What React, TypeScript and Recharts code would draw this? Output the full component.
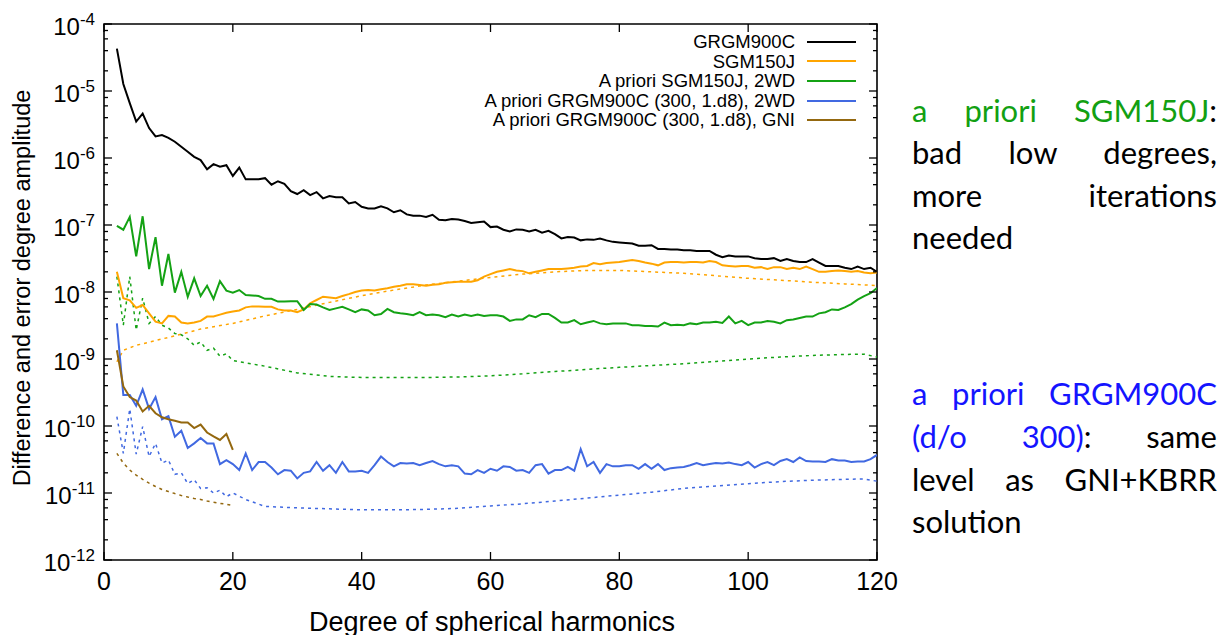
import React from 'react';
import { LineChart, Line, XAxis, YAxis, ReferenceArea, Legend } from 'recharts';

// degrees of the full-length series start at 2
const firstDegree = 2;

const grgm900c = [
  4.3e-5, 1.27e-5, 6.6e-6, 3.5e-6, 4.6e-6, 2.8e-6, 2.1e-6, 2.2e-6, 2.0e-6, 1.75e-6,
  1.47e-6, 1.24e-6, 1.04e-6, 9.3e-7, 6.8e-7, 8.1e-7, 7.4e-7, 7.8e-7, 5.4e-7, 7.2e-7,
  4.8e-7, 4.8e-7, 4.8e-7, 5.0e-7, 4.0e-7, 4.5e-7, 4.1e-7, 3.2e-7, 2.9e-7, 3.3e-7,
  2.8e-7, 3.1e-7, 2.5e-7, 2.7e-7, 2.6e-7, 2.6e-7, 2.1e-7, 2.2e-7, 1.87e-7, 1.77e-7,
  1.77e-7, 1.9e-7, 1.77e-7, 1.55e-7, 1.66e-7, 1.44e-7, 1.38e-7, 1.38e-7, 1.32e-7, 1.42e-7,
  1.2e-7, 1.18e-7, 1.23e-7, 1.21e-7, 1.15e-7, 1.07e-7, 1.1e-7, 1.13e-7, 9.3e-8, 9.5e-8,
  8.5e-8, 8.0e-8, 8.6e-8, 8.5e-8, 8.0e-8, 8.5e-8, 7.7e-8, 8.2e-8, 7.3e-8, 6.3e-8,
  6.6e-8, 6.5e-8, 5.9e-8, 6.1e-8, 6.0e-8, 6.3e-8, 5.9e-8, 5.6e-8, 5.5e-8, 5.4e-8,
  5.3e-8, 4.9e-8, 4.9e-8, 5.0e-8, 4.4e-8, 4.4e-8, 4.3e-8, 4.3e-8, 4.2e-8, 4.2e-8,
  4.1e-8, 4.1e-8, 4.1e-8, 3.6e-8, 3.3e-8, 3.5e-8, 3.4e-8, 3.4e-8, 3.4e-8, 3.2e-8,
  3.1e-8, 3.1e-8, 3.2e-8, 2.9e-8, 3.1e-8, 2.9e-8, 2.8e-8, 2.8e-8, 3.1e-8, 2.75e-8,
  2.45e-8, 2.45e-8, 2.45e-8, 2.3e-8, 2.2e-8, 2.4e-8, 2.2e-8, 2.3e-8, 2.0e-8,
];

const sgm150j = [
  2.0e-8, 8.1e-9, 7.5e-9, 5.8e-9, 6.4e-9, 4.8e-9, 3.6e-9, 3.4e-9, 4.4e-9, 4.3e-9,
  3.5e-9, 3.4e-9, 3.5e-9, 3.7e-9, 4.3e-9, 4.3e-9, 4.6e-9, 4.9e-9, 5.1e-9, 5.3e-9,
  5.9e-9, 6.1e-9, 6.1e-9, 6.0e-9, 6.0e-9, 5.5e-9, 5.3e-9, 5.3e-9, 5.0e-9, 5.5e-9,
  6.8e-9, 7.6e-9, 8.5e-9, 8.3e-9, 8.1e-9, 8.7e-9, 9.3e-9, 1.0e-8, 1.05e-8, 1.07e-8,
  1.05e-8, 1.1e-8, 1.14e-8, 1.2e-8, 1.24e-8, 1.3e-8, 1.3e-8, 1.27e-8, 1.24e-8, 1.28e-8,
  1.3e-8, 1.37e-8, 1.4e-8, 1.42e-8, 1.42e-8, 1.42e-8, 1.5e-8, 1.7e-8, 1.85e-8, 2.0e-8,
  2.1e-8, 2.2e-8, 2.1e-8, 2.05e-8, 1.9e-8, 2.0e-8, 2.1e-8, 2.2e-8, 2.2e-8, 2.2e-8,
  2.25e-8, 2.3e-8, 2.4e-8, 2.45e-8, 2.7e-8, 2.6e-8, 2.7e-8, 2.75e-8, 2.8e-8, 2.9e-8,
  3.0e-8, 2.9e-8, 2.75e-8, 2.65e-8, 2.5e-8, 2.75e-8, 2.8e-8, 2.8e-8, 2.75e-8, 2.8e-8,
  2.8e-8, 2.75e-8, 2.9e-8, 2.8e-8, 2.5e-8, 2.45e-8, 2.4e-8, 2.45e-8, 2.45e-8, 2.3e-8,
  2.35e-8, 2.2e-8, 2.35e-8, 2.35e-8, 2.2e-8, 2.3e-8, 2.2e-8, 2.4e-8, 2.2e-8, 2.0e-8,
  2.0e-8, 2.05e-8, 2.1e-8, 2.05e-8, 2.0e-8, 2.05e-8, 1.95e-8, 1.9e-8, 1.95e-8,
];

const aprioriSgm2wd = [
  9.7e-8, 8.5e-8, 1.32e-7, 3.4e-8, 1.35e-7, 2.2e-8, 6.6e-8, 1.24e-8, 3.7e-8, 9.8e-9,
  2.0e-8, 8.5e-9, 1.6e-8, 8.7e-9, 1.24e-8, 7.9e-9, 1.45e-8, 1.05e-8, 9.8e-9, 1.07e-8,
  9.0e-9, 8.9e-9, 8.7e-9, 7.9e-9, 7.9e-9, 7.2e-9, 7.2e-9, 7.3e-9, 7.3e-9, 5.4e-9,
  6.6e-9, 6.5e-9, 5.9e-9, 5.4e-9, 5.7e-9, 6.0e-9, 5.5e-9, 5.0e-9, 5.5e-9, 5.3e-9,
  4.5e-9, 4.7e-9, 5.6e-9, 5.0e-9, 4.8e-9, 4.7e-9, 4.5e-9, 5.0e-9, 4.5e-9, 4.6e-9,
  4.5e-9, 4.2e-9, 4.6e-9, 4.3e-9, 4.6e-9, 4.4e-9, 4.6e-9, 4.4e-9, 4.5e-9, 4.5e-9,
  4.3e-9, 3.7e-9, 3.9e-9, 3.9e-9, 4.5e-9, 4.2e-9, 4.7e-9, 4.7e-9, 4.1e-9, 3.5e-9,
  3.5e-9, 3.8e-9, 3.3e-9, 3.5e-9, 3.7e-9, 3.4e-9, 3.3e-9, 3.4e-9, 3.4e-9, 3.4e-9,
  3.2e-9, 3.2e-9, 3.1e-9, 3.1e-9, 3.05e-9, 3.5e-9, 3.2e-9, 3.25e-9, 3.2e-9, 3.4e-9,
  3.3e-9, 3.5e-9, 3.5e-9, 3.6e-9, 3.45e-9, 4.3e-9, 3.4e-9, 3.7e-9, 3.2e-9, 3.5e-9,
  3.5e-9, 3.7e-9, 3.6e-9, 3.4e-9, 3.8e-9, 3.9e-9, 4.1e-9, 4.3e-9, 4.3e-9, 4.8e-9,
  5.0e-9, 5.5e-9, 5.4e-9, 5.9e-9, 6.6e-9, 7.7e-9, 8.7e-9, 9.6e-9, 1.15e-8,
];

const aprioriGrgm2wd = [
  3.4e-9, 2.9e-10, 2.9e-10, 2.0e-10, 3.5e-10, 1.8e-10, 2.7e-10, 1.26e-10, 1.4e-10, 6.9e-11,
  8.5e-11, 4.7e-11, 5.5e-11, 6.6e-11, 5.5e-11, 5.5e-11, 2.7e-11, 3.1e-11, 2.7e-11, 2.2e-11,
  3.9e-11, 2.2e-11, 2.9e-11, 2.9e-11, 2.4e-11, 1.9e-11, 2.2e-11, 2.15e-11, 1.65e-11, 2.0e-11,
  2.1e-11, 2.9e-11, 2.15e-11, 2.6e-11, 2.0e-11, 2.9e-11, 2.1e-11, 2.1e-11, 2.15e-11, 2.0e-11,
  2.6e-11, 3.5e-11, 2.9e-11, 2.5e-11, 2.8e-11, 2.75e-11, 2.8e-11, 2.6e-11, 2.8e-11, 3.0e-11,
  2.7e-11, 2.5e-11, 2.6e-11, 2.5e-11, 1.95e-11, 1.9e-11, 2.2e-11, 2.0e-11, 2.3e-11, 2.15e-11,
  2.5e-11, 2.45e-11, 2.15e-11, 2.2e-11, 2.0e-11, 2.6e-11, 2.7e-11, 1.95e-11, 2.2e-11, 2.2e-11,
  2.45e-11, 2.15e-11, 4.5e-11, 2.5e-11, 2.9e-11, 2.0e-11, 2.7e-11, 2.5e-11, 2.5e-11, 2.6e-11,
  2.6e-11, 2.3e-11, 2.7e-11, 2.3e-11, 2.7e-11, 2.2e-11, 2.35e-11, 2.4e-11, 2.45e-11, 2.6e-11,
  2.8e-11, 2.6e-11, 2.7e-11, 2.8e-11, 2.75e-11, 2.85e-11, 2.7e-11, 2.6e-11, 2.9e-11, 2.4e-11,
  2.7e-11, 2.9e-11, 2.6e-11, 3.0e-11, 3.2e-11, 2.9e-11, 3.4e-11, 3.0e-11, 2.95e-11, 2.95e-11,
  2.9e-11, 3.2e-11, 3.05e-11, 3.05e-11, 2.9e-11, 2.95e-11, 2.95e-11, 3.2e-11, 3.7e-11,
];

// degrees 2..20 only
const aprioriGrgmGni = [
  1.35e-9, 3.9e-10, 2.7e-10, 2.4e-10, 1.65e-10, 2.0e-10, 1.55e-10, 1.35e-10, 1.26e-10, 1.2e-10,
  1.13e-10, 1.13e-10, 9.3e-11, 1.05e-10, 8.0e-11, 7.0e-11, 6.2e-11, 7.6e-11, 4.4e-11,
];

// error degree amplitudes (dotted)
const sgm150jErrDegrees = [2, 3, 5, 10, 15, 20, 25, 30, 35, 40, 45, 50, 55, 60, 65, 70, 75, 80, 85, 90, 95, 100, 105, 110, 115, 120];
const sgm150jErr = [
  9.1e-10, 1.35e-9, 1.6e-9, 2.1e-9, 2.8e-9, 3.4e-9, 4.4e-9, 5.5e-9, 7.0e-9, 8.8e-9,
  1.07e-8, 1.27e-8, 1.45e-8, 1.65e-8, 1.85e-8, 2.0e-8, 2.1e-8, 2.1e-8, 2.0e-8, 1.9e-8,
  1.75e-8, 1.6e-8, 1.5e-8, 1.4e-8, 1.32e-8, 1.25e-8,
];

const aprioriSgmErrDegrees = [
  2, 3, 4, 5, 6, 7, 8, 9, 10, 11, 12, 13, 14, 15, 16, 17, 18, 19, 20,
  25, 30, 35, 40, 45, 50, 55, 60, 65, 70, 75, 80, 85, 90, 95, 100, 105, 110, 115, 118, 120,
];
const aprioriSgmErr = [
  1.7e-8, 3.2e-9, 1.7e-8, 2.7e-9, 8.1e-9, 3.4e-9, 4.3e-9, 3.2e-9, 2.9e-9, 2.4e-9,
  2.3e-9, 2.0e-9, 1.6e-9, 1.8e-9, 1.35e-9, 1.45e-9, 1.1e-9, 1.2e-9, 9.5e-10,
  7.8e-10, 6.2e-10, 5.5e-10, 5.3e-10, 5.3e-10, 5.3e-10, 5.4e-10, 5.6e-10, 6.0e-10, 6.5e-10,
  7.0e-10, 7.5e-10, 8.0e-10, 8.5e-10, 9.2e-10, 1.0e-9, 1.07e-9, 1.13e-9, 1.17e-9, 1.18e-9, 1.07e-9,
];

const aprioriGrgmErrDegrees = [
  2, 3, 4, 5, 6, 7, 8, 9, 10, 11, 12, 13, 14, 15, 16, 17, 18, 19, 20,
  22, 25, 30, 35, 40, 45, 50, 55, 60, 65, 70, 75, 80, 85, 90, 95, 100, 105, 110, 115, 118, 120,
];
const aprioriGrgmErr = [
  1.38e-10, 3.9e-11, 1.8e-10, 3.8e-11, 9.8e-11, 3.5e-11, 5.5e-11, 2.8e-11, 3.1e-11, 1.9e-11,
  2.0e-11, 1.38e-11, 1.58e-11, 1.17e-11, 1.2e-11, 1.0e-11, 1.1e-11, 8.8e-12, 1.0e-11,
  8.0e-12, 6.3e-12, 6.0e-12, 5.8e-12, 5.6e-12, 5.6e-12, 5.7e-12, 5.9e-12, 6.4e-12, 6.9e-12,
  7.6e-12, 8.4e-12, 9.3e-12, 1.03e-11, 1.17e-11, 1.27e-11, 1.38e-11, 1.48e-11, 1.55e-11, 1.6e-11,
  1.62e-11, 1.5e-11,
];

// degrees 2..20
const gniErr = [
  3.9e-11, 2.8e-11, 2.2e-11, 1.85e-11, 1.6e-11, 1.4e-11, 1.25e-11, 1.13e-11, 1.05e-11, 9.8e-12,
  9.2e-12, 8.7e-12, 8.3e-12, 8.0e-12, 7.6e-12, 7.3e-12, 7.0e-12, 6.8e-12, 6.5e-12,
];

const xTicks = [0, 20, 40, 60, 80, 100, 120];
const yExponents = [-12, -11, -10, -9, -8, -7, -6, -5, -4];
const yMinorMantissas = [2, 4, 6, 8];

const BLACK = '#000000';
const ORANGE = '#ffa500';
const GREEN = '#14a214';
const BLUE = '#4169e1';
const BROWN = '#94680f';

const fromStart = (vals: number[]) => vals.map((v, i) => ({ d: firstDegree + i, v }));
const fromPairs = (degs: number[], vals: number[]) => degs.map((d, i) => ({ d, v: vals[i] }));

const solidSeries = [
  { name: 'GRGM900C', color: BLACK, data: fromStart(grgm900c) },
  { name: 'SGM150J', color: ORANGE, data: fromStart(sgm150j) },
  { name: 'A priori SGM150J, 2WD', color: GREEN, data: fromStart(aprioriSgm2wd) },
  { name: 'A priori GRGM900C (300, 1.d8), 2WD', color: BLUE, data: fromStart(aprioriGrgm2wd) },
  { name: 'A priori GRGM900C (300, 1.d8), GNI', color: BROWN, data: fromStart(aprioriGrgmGni) },
];

const dottedSeries = [
  { key: 'sgmErr', color: ORANGE, data: fromPairs(sgm150jErrDegrees, sgm150jErr) },
  { key: 'apSgmErr', color: GREEN, data: fromPairs(aprioriSgmErrDegrees, aprioriSgmErr) },
  { key: 'apGrgmErr', color: BLUE, data: fromPairs(aprioriGrgmErrDegrees, aprioriGrgmErr) },
  { key: 'gniErr', color: BROWN, data: fromStart(gniErr) },
];

const yTicks = [
  ...yExponents.map((e) => 10 ** e),
  ...yExponents.slice(0, -1).flatMap((e) => yMinorMantissas.map((m) => m * 10 ** e)),
].sort((a, b) => a - b);

// plot frame
const PL = 104;
const PR = 877;
const PT = 24;
const PB = 560;
const W = 1232;
const H = 635;
const FONT = '"Liberation Sans", Arial, Helvetica, sans-serif';

const YTick = (props: any) => {
  const { y, payload } = props;
  const v = payload.value as number;
  const exp = Math.round(Math.log10(v));
  const major = Math.abs(v / 10 ** exp - 1) < 1e-6;
  const len = major ? 8 : 4;
  return (
    <g>
      <line x1={PL} x2={PL + len} y1={y} y2={y} stroke="#000" strokeWidth={1.3} />
      <line x1={PR - len} x2={PR} y1={y} y2={y} stroke="#000" strokeWidth={1.3} />
      {major && (
        <text x={95} y={y + 11} textAnchor="end" fontSize={24} fontFamily={FONT} fill="#000">
          10
          <tspan dy={-10} fontSize={17}>{exp}</tspan>
        </text>
      )}
    </g>
  );
};

const XTick = (props: any) => {
  const { x, payload } = props;
  return (
    <g>
      <line x1={x} x2={x} y1={PB} y2={PB - 8} stroke="#000" strokeWidth={1.3} />
      <line x1={x} x2={x} y1={PT} y2={PT + 8} stroke="#000" strokeWidth={1.3} />
      <text x={x} y={PB + 30} textAnchor="middle" fontSize={25} fontFamily={FONT} fill="#000">
        {payload.value}
      </text>
    </g>
  );
};

const renderLegend = () => (
  <div style={{ fontFamily: FONT, fontSize: 18.5, color: '#000' }}>
    {solidSeries.map((s) => (
      <div
        key={s.name}
        style={{ display: 'flex', justifyContent: 'flex-end', alignItems: 'center', height: 19.6 }}
      >
        <span style={{ whiteSpace: 'nowrap', lineHeight: '19.6px' }}>{s.name}</span>
        <svg width={49} height={4} style={{ marginLeft: 12 }}>
          <line x1={0} x2={49} y1={2} y2={2} stroke={s.color} strokeWidth={2} />
        </svg>
      </div>
    ))}
  </div>
);

const TEXT_GREEN = '#12a012';
const TEXT_BLUE = '#1414ff';
const NOTE_FONT = 'Lato, "Open Sans", sans-serif';

const NoteLine = ({ top, justify, children }: { top: number; justify?: boolean; children: React.ReactNode }) => (
  <div
    style={{
      position: 'absolute',
      left: 912,
      top,
      width: 305,
      fontFamily: NOTE_FONT,
      fontSize: 31,
      lineHeight: '42px',
      whiteSpace: 'nowrap',
      textAlign: justify ? 'justify' : 'left',
      textAlignLast: justify ? 'justify' : 'left',
      color: '#000',
    }}
  >
    {children}
  </div>
);

export default function App() {
  return (
    <div style={{ position: 'absolute', left: 0, top: 0, width: W, height: H, background: '#fff' }}>
      <LineChart
        width={W}
        height={H}
        margin={{ top: PT, right: W - PR, bottom: H - PB - 40, left: PL - 60 }}
      >
        <XAxis
          xAxisId={0}
          type="number"
          dataKey="d"
          domain={[0, 120]}
          ticks={xTicks}
          interval={0}
          axisLine={false}
          tickLine={false}
          tick={<XTick />}
          height={40}
          allowDataOverflow
        />
        <YAxis
          yAxisId={0}
          type="number"
          scale="log"
          domain={[1e-12, 1e-4]}
          ticks={yTicks}
          interval={0}
          axisLine={false}
          tickLine={false}
          tick={<YTick />}
          width={60}
          allowDataOverflow
        />
        {dottedSeries.map((s) => (
          <Line
            key={s.key}
            data={s.data}
            dataKey="v"
            type="linear"
            stroke={s.color}
            strokeWidth={1.5}
            strokeDasharray="3 4"
            dot={false}
            legendType="none"
            isAnimationActive={false}
          />
        ))}
        {solidSeries.map((s) => (
          <Line
            key={s.name}
            name={s.name}
            data={s.data}
            dataKey="v"
            type="linear"
            stroke={s.color}
            strokeWidth={2}
            dot={false}
            isAnimationActive={false}
          />
        ))}
        <ReferenceArea
          x1={0}
          x2={120}
          y1={1e-12}
          y2={1e-4}
          fill="none"
          stroke="#000"
          strokeWidth={1.6}
          ifOverflow="visible"
        />
        <Legend
          layout="vertical"
          align="center"
          verticalAlign="middle"
          wrapperStyle={{ left: 360, top: 32, width: 496 }}
          content={renderLegend}
        />
      </LineChart>

      {/* axis titles */}
      <div
        style={{
          position: 'absolute',
          left: 22,
          top: 288,
          transform: 'translate(-50%, -50%) rotate(-90deg)',
          whiteSpace: 'nowrap',
          fontFamily: FONT,
          fontSize: 23.5,
          lineHeight: '24px',
        }}
      >
        Difference and error degree amplitude
      </div>
      <div
        style={{
          position: 'absolute',
          left: 492,
          top: 609,
          transform: 'translateX(-50%)',
          whiteSpace: 'nowrap',
          fontFamily: FONT,
          fontSize: 27,
          lineHeight: '27px',
        }}
      >
        Degree of spherical harmonics
      </div>

      {/* side notes */}
      <NoteLine top={89} justify>
        <span style={{ color: TEXT_GREEN }}>a priori SGM150J</span>:
      </NoteLine>
      <NoteLine top={131} justify>bad low degrees,</NoteLine>
      <NoteLine top={174} justify>more iterations</NoteLine>
      <NoteLine top={216}>needed</NoteLine>

      <NoteLine top={372} justify>
        <span style={{ color: TEXT_BLUE }}>a priori GRGM900C</span>
      </NoteLine>
      <NoteLine top={415} justify>
        <span style={{ color: TEXT_BLUE }}>(d/o 300)</span>: same
      </NoteLine>
      <NoteLine top={458} justify>level as GNI+KBRR</NoteLine>
      <NoteLine top={500}>solution</NoteLine>
    </div>
  );
}
